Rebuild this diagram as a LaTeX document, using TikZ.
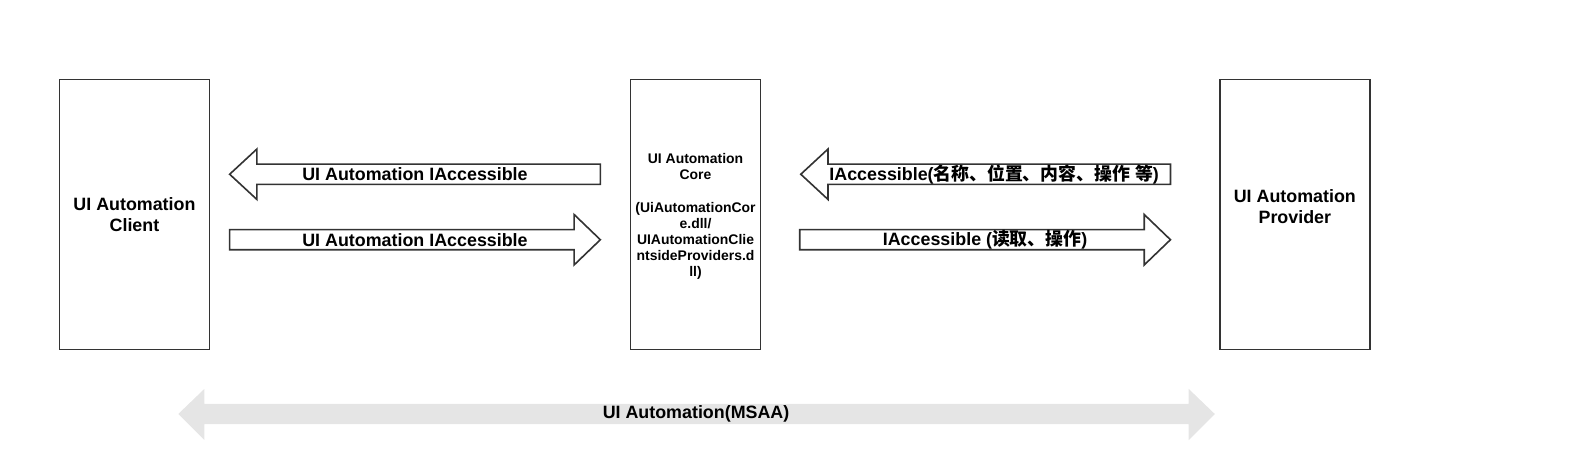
\documentclass[tikz,border=0pt]{standalone}
\usepackage{fontspec}
\setmainfont{Liberation Sans}
\newfontfamily\cjk{Noto Sans CJK SC}
\usepackage{tikz}
\usetikzlibrary{calc}

% block arrows, #1 tail and #2 tip (shaft centre)
\newcommand\blockleft[2]{%
  \draw[blockarrow] (#2) -- ($(#2)+(27,-25)$) -- ($(#2)+(27,-10)$) -- ($(#1)+(0,-10)$)
    -- ($(#1)+(0,10)$) -- ($(#2)+(27,10)$) -- ($(#2)+(27,25)$) -- cycle;}
\newcommand\blockright[2]{%
  \draw[blockarrow] (#2) -- ($(#2)+(-26,-25)$) -- ($(#2)+(-26,-10)$) -- ($(#1)+(0,-10)$)
    -- ($(#1)+(0,10)$) -- ($(#2)+(-26,10)$) -- ($(#2)+(-26,25)$) -- cycle;}

\begin{document}
\begin{tikzpicture}
      [ x=1bp, y=-1bp,
        box/.style={draw=black!80, line width=1.8bp, fill=white, inner sep=0pt,
                    minimum height=268bp, align=center,
                    font=\bfseries\fontsize{17.8}{20.5}\selectfont},
        boxtext/.style={align=center, inner sep=0pt,
                    font=\bfseries\fontsize{17.8}{20.5}\selectfont},
        coretext/.style={align=center, inner sep=0pt,
                    font=\bfseries\fontsize{13.9}{16}\selectfont},
        blockarrow/.style={draw=black!80, line width=1.6bp, fill=white},
        arrowlabel/.style={inner sep=0pt, font=\bfseries\fontsize{17.8}{20.5}\selectfont}
      ]
      \useasboundingbox (0,0) rectangle (1567.6,456.7);

      \node[box, minimum width=149bp] (client)   at (133.5,213)  {UI Automation\\Client};
      \node[box, minimum width=129bp] (core)     at (690.5,213)  {};
      \node[box, minimum width=149bp,
            label={[boxtext, yshift=8bp]center:UI Automation\\Provider}]
                                      (provider) at (1285.5,213) {};
      \node[coretext] (corelabel) at ($(core.center)+(0,2)$)
        {UI Automation\\Core\\[16bp](UiAutomationCor\\e.dll/\\UIAutomationClie\\ntsideProviders.d\\ll)};

      % client <-> core
      \coordinate (cl1) at (228,173);  \coordinate (co1) at (596,173);
      \coordinate (cl2) at (228,238);  \coordinate (co2) at (596,238);
      \blockleft{co1}{cl1}
      \blockright{cl2}{co2}
      \node[arrowlabel] (getacc)  at (412,173) {UI Automation IAccessible};
      \node[arrowlabel] (callacc) at (412,238) {UI Automation IAccessible};

      % core <-> provider
      \coordinate (co3) at (795,173);  \coordinate (pr1) at (1162,173);
      \coordinate (co4) at (794,238);  \coordinate (pr2) at (1162,238);
      \blockleft{pr1}{co3}
      \blockright{co4}{pr2}
      \node[arrowlabel] (info) at (987,173) {IAccessible({\cjk 名称、位置、内容、操作} {\cjk 等})};
      \node[arrowlabel] (act)  at (978,238) {IAccessible ({\cjk 读取、操作})};

      % bottom double arrow
      \coordinate (msaal) at (177,411);  \coordinate (msaar) at (1206,411);
      \fill[gray!20] (msaal) -- ($(msaal)+(26,-25)$) -- ($(msaal)+(26,-10)$)
        -- ($(msaar)+(-26,-10)$) -- ($(msaar)+(-26,-25)$) -- (msaar)
        -- ($(msaar)+(-26,26)$) -- ($(msaar)+(-26,10)$) -- ($(msaal)+(26,10)$)
        -- ($(msaal)+(26,26)$) -- cycle;
      \node[arrowlabel] (msaa) at (691,411) {UI Automation(MSAA)};
    \end{tikzpicture}
\end{document}
